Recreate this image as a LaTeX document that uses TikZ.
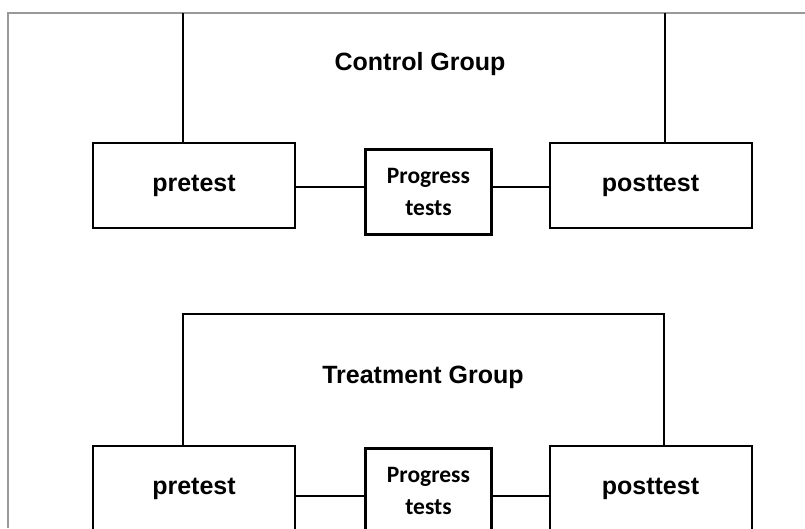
\documentclass[tikz,border=0pt]{standalone}
\usepackage{fontspec}
\setmainfont{Liberation Sans}
\newfontfamily\carlito{Carlito}
\begin{document}
\begin{tikzpicture}[x=1pt,y=-1pt,
  testbox/.style={draw, line width=2pt, minimum width=202pt, minimum height=85pt,
    inner sep=0pt, font=\fontsize{25}{30}\selectfont\bfseries},
  progbox/.style={draw, line width=3pt, minimum width=126pt, minimum height=85pt,
    inner sep=0pt, align=center, font=\carlito\fontsize{23.5}{32}\selectfont\bfseries},
  link/.style={line width=2pt},
  grouplabel/.style={font=\fontsize{25}{30}\selectfont\bfseries, anchor=base},
  frameline/.style={draw=black!40, line width=1.5pt}]
\useasboundingbox (0,0) rectangle (805,528);
\clip (0,0) rectangle (805,528);

% page frame
\draw[frameline] (8,528) -- (8,13) -- (805,13);

% control group
\node[grouplabel] (ctrl) at (420,70) {Control Group};
\node[testbox]  (pre1)  at (194,185.5)   {pretest};
\node[progbox]  (prog1) at (428.5,192)   {Progress\\tests};
\node[testbox]  (post1) at (650.5,185.5) {posttest};
\coordinate (c1l) at (183,13);
\coordinate (c1r) at (665,13);
\draw[link] (pre1.north -| c1l) -- (c1l);
\draw[link] (post1.north -| c1r) -- (c1r);
\draw[link] (pre1.east |- 0,187) -- (prog1.west |- 0,187);
\draw[link] (prog1.east |- 0,187) -- (post1.west |- 0,187);

% treatment group
\node[grouplabel] (treat) at (423,383) {Treatment Group};
\node[testbox]  (pre2)  at (194,488.5)   {pretest};
\node[progbox]  (prog2) at (428.5,491)   {Progress\\tests};
\node[testbox]  (post2) at (650.5,488.5) {posttest};
\coordinate (c2l) at (183,314);
\coordinate (c2r) at (664,314);
\draw[link] (pre2.north -| c2l) -- (c2l) -- (c2r) -- (post2.north -| c2r);
\draw[link] (pre2.east |- 0,496) -- (prog2.west |- 0,496);
\draw[link] (prog2.east |- 0,496) -- (post2.west |- 0,496);
\end{tikzpicture}
\end{document}
